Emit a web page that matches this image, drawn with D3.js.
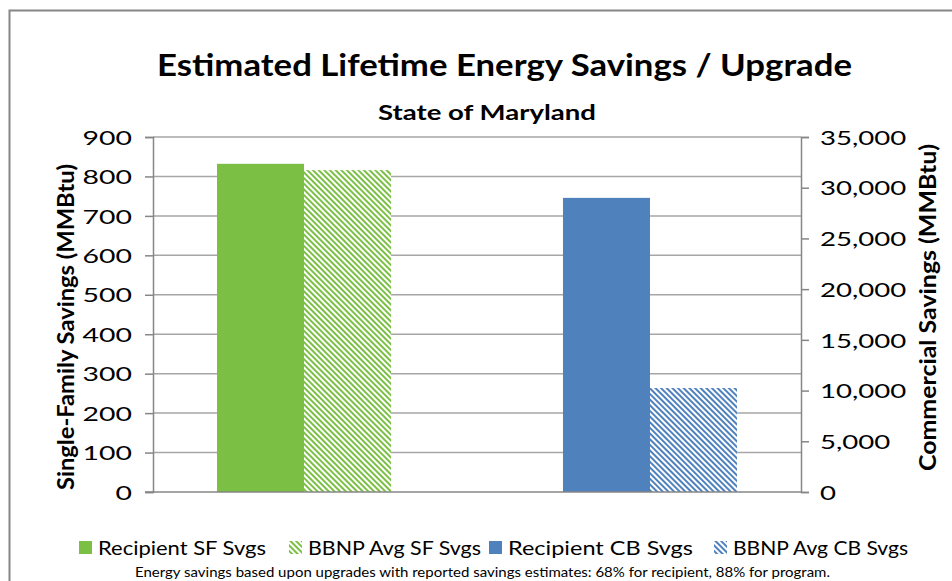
<!DOCTYPE html>
<html>
<head>
<meta charset="utf-8">
<script src="https://cdn.jsdelivr.net/npm/d3@7"></script>
<style>
  body { margin: 0; background: #fff; }
  svg text { font-family: Lato, "Open Sans", sans-serif; fill: #000; }
</style>
</head>
<body>
<svg id="chart" width="952" height="581"></svg>
<script>
const categories = ['Single-Family', 'Commercial'];
const seriesNames = ['Recipient SF Svgs', 'BBNP Avg SF Svgs', 'Recipient CB Svgs', 'BBNP Avg CB Svgs'];
const sfValues = [832, 816];          // primary axis, MMBtu
const cbValues = [29000, 10250];      // secondary axis, MMBtu
const leftTicks = [0, 100, 200, 300, 400, 500, 600, 700, 800, 900];
const rightTicks = [0, 5000, 10000, 15000, 20000, 25000, 30000, 35000];

const green = '#7bbf45';
const blue = '#4f81bd';

const svg = d3.select('#chart');
const plotLeft = 153, plotRight = 801, plotTop = 137, plotBottom = 492;

// the original picture is stretched sideways, so text gets widened to match
function stretch(sel, k) {
  sel.each(function() {
    this.setAttribute('textLength', this.getComputedTextLength() * k);
    this.setAttribute('lengthAdjust', 'spacingAndGlyphs');
  });
}
function fit(sel, w) {
  sel.attr('textLength', w).attr('lengthAdjust', 'spacingAndGlyphs');
}

// hatch patterns
const defs = svg.append('defs');
function addHatch(id, color) {
  const p = defs.append('pattern')
    .attr('id', id)
    .attr('patternUnits', 'userSpaceOnUse')
    .attr('width', 4).attr('height', 4)
    .attr('patternTransform', 'rotate(-45)');
  p.append('rect').attr('width', 4).attr('height', 4).attr('fill', '#fff');
  p.append('rect').attr('width', 2).attr('height', 4).attr('fill', color);
}
addHatch('hatchGreen', green);
addHatch('hatchBlue', blue);

// outer border
svg.append('rect')
  .attr('x', 9.5).attr('y', 10.5)
  .attr('width', 960).attr('height', 600)
  .attr('fill', 'none')
  .attr('stroke', '#868686')
  .attr('stroke-width', 2);

const x = d3.scaleBand()
  .domain(categories)
  .range([plotLeft, plotRight])
  .paddingInner(0.497)
  .paddingOuter(0.185);

const xSub = d3.scaleBand()
  .domain([0, 1])
  .range([0, x.bandwidth()]);

const yLeft = d3.scaleLinear().domain([0, 900]).range([plotBottom, plotTop]);
const yRight = d3.scaleLinear().domain([0, 35000]).range([plotBottom, plotTop]);

// gridlines
svg.append('g')
  .selectAll('line')
  .data(leftTicks.slice(1))
  .join('line')
  .attr('x1', plotLeft).attr('x2', plotRight)
  .attr('y1', d => yLeft(d)).attr('y2', d => yLeft(d))
  .attr('stroke', '#a6a6a6')
  .attr('stroke-width', 1.5);

// bars
const bars = [
  { cat: categories[0], i: 0, y: yLeft, v: sfValues[0], fill: green },
  { cat: categories[0], i: 1, y: yLeft, v: sfValues[1], fill: 'url(#hatchGreen)' },
  { cat: categories[1], i: 0, y: yRight, v: cbValues[0], fill: blue },
  { cat: categories[1], i: 1, y: yRight, v: cbValues[1], fill: 'url(#hatchBlue)' }
];
svg.append('g')
  .selectAll('rect')
  .data(bars)
  .join('rect')
  .attr('x', d => x(d.cat) + xSub(d.i))
  .attr('y', d => d.y(d.v))
  .attr('width', xSub.bandwidth())
  .attr('height', d => plotBottom - d.y(d.v))
  .attr('fill', d => d.fill);

// left axis
const axisL = svg.append('g')
  .attr('transform', `translate(${plotLeft},0)`)
  .call(d3.axisLeft(yLeft).tickValues(leftTicks).tickSize(8));
axisL.selectAll('.domain, line').attr('stroke', '#868686').attr('stroke-width', 1.5);
axisL.selectAll('text')
  .style('font-size', '20px').attr('fill', '#000').attr('dy', '0.36em')
  .attr('text-anchor', 'start')
  .each(function() {
    const w = this.getComputedTextLength() * 1.42;
    this.setAttribute('textLength', w);
    this.setAttribute('lengthAdjust', 'spacingAndGlyphs');
    this.setAttribute('x', -21 - w);
  });

// right axis
const axisR = svg.append('g')
  .attr('transform', `translate(${plotRight},0)`)
  .call(d3.axisRight(yRight).tickValues(rightTicks).tickSize(8).tickPadding(11)
    .tickFormat(d3.format(',')));
axisR.selectAll('.domain, line').attr('stroke', '#868686').attr('stroke-width', 1.5);
axisR.selectAll('text').style('font-size', '20px').attr('fill', '#000').attr('dy', '0.36em')
  .call(stretch, 1.38);

// baseline
svg.append('line')
  .attr('x1', plotLeft - 8).attr('x2', plotRight)
  .attr('y1', plotBottom).attr('y2', plotBottom)
  .attr('stroke', '#868686').attr('stroke-width', 1.5);

// titles
svg.append('text')
  .attr('x', 157).attr('y', 76)
  .style('font-size', '30px').style('font-weight', 'bold')
  .text('Estimated Lifetime Energy Savings / Upgrade')
  .call(fit, 695);
svg.append('text')
  .attr('x', 378).attr('y', 120)
  .style('font-size', '21px').style('font-weight', 'bold')
  .text('State of Maryland')
  .call(fit, 218);

// vertical titles: thickened sideways like the rest of the picture
svg.append('text')
  .attr('transform', 'translate(74,490) scale(1.3,1) rotate(-90)')
  .style('font-size', '18px').style('font-weight', 'bold')
  .text('Single-Family Savings (MMBtu)')
  .call(fit, 326);
svg.append('text')
  .attr('transform', 'translate(936,471) scale(1.3,1) rotate(-90)')
  .style('font-size', '18px').style('font-weight', 'bold')
  .text('Commercial Savings (MMBtu)')
  .call(fit, 327);

// legend
const legendX = [79, 289, 489, 714];
const legendW = [168, 173, 185, 175];
const legendFills = [green, 'url(#hatchGreen)', blue, 'url(#hatchBlue)'];
const legend = svg.append('g')
  .selectAll('g')
  .data(seriesNames)
  .join('g')
  .attr('transform', (d, i) => `translate(${legendX[i]},541)`);
legend.append('rect')
  .attr('width', 13).attr('height', 13)
  .attr('fill', (d, i) => legendFills[i]);
legend.append('text')
  .attr('x', 19).attr('y', 14)
  .style('font-size', '19px')
  .text(d => d)
  .each(function(d, i) { d3.select(this).call(fit, legendW[i]); });

svg.append('text')
  .attr('x', 135).attr('y', 577)
  .style('font-size', '12.5px')
  .text('Energy savings based upon upgrades with reported savings estimates: 68% for recipient, 88% for program.')
  .call(fit, 695);
</script>
</body>
</html>
